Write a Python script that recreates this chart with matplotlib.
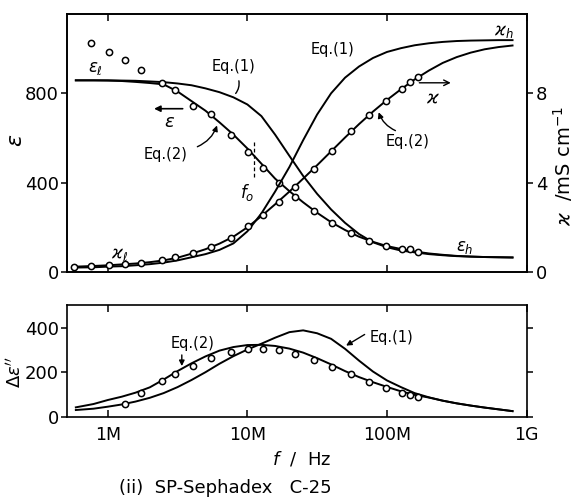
import numpy as np
import matplotlib
matplotlib.use("Agg")
import matplotlib.pyplot as plt

# ---------------- data (frequencies in MHz) ----------------
meas_f_MHz = [0.57, 0.76, 1.02, 1.32, 1.72, 2.43, 3.05, 4.07, 5.53, 7.57, 10.1,
              12.9, 16.9, 21.9, 29.9, 40.3, 55.1, 74.1, 98.9, 128.8, 146.9, 166.0]
eps_meas = [np.nan, 1026, 986, 950, 903, 848, 815, 745, 707, 614, 535,
            465, 397, 335, 274, 220, 176, 139, 115, 104, 101, 90]
kappa_meas = [0.22, 0.27, 0.33, 0.35, 0.39, 0.54, 0.65, 0.85, 1.11, 1.52, 2.05,
              2.55, 3.12, 3.80, 4.62, 5.42, 6.29, 7.04, 7.67, 8.21, 8.51, 8.72]
loss_f_MHz = meas_f_MHz[3:]
loss_meas = [57, 105, 160, 194, 228, 265, 290, 304, 304, 301, 282, 254, 225,
             194, 157, 130, 106, 96, 87]

curve_f_MHz = [0.59, 0.79, 1.0, 1.26, 1.58, 2.0, 2.51, 3.16, 3.98, 5.01, 6.31, 7.94,
               10.0, 12.6, 15.8, 20.0, 25.1, 31.6, 39.8, 50.1, 63.1, 79.4, 100, 126,
               158, 200, 251, 316, 398, 501, 631, 794]
eps_eq1 = [858, 858, 858, 857, 856, 853, 850, 844, 836, 822, 805, 782,
           750, 698, 615, 520, 430, 350, 280, 220, 170, 133, 111, 96,
           88, 80, 75, 71, 69, 67, 66, 65]
eps_eq2 = [858, 858, 857, 855, 851, 846, 840, 808, 765, 722, 670, 615,
           553, 485, 418, 362, 312, 265, 223, 188, 158, 135, 116, 103,
           92, 83, 77, 72, 69, 67, 66, 65]
kappa_eq1 = [0.20, 0.21, 0.24, 0.26, 0.30, 0.35, 0.42, 0.52, 0.66, 0.80, 0.99, 1.28,
             1.82, 2.62, 3.60, 4.70, 5.90, 7.05, 8.00, 8.70, 9.20, 9.58, 9.85, 10.02,
             10.15, 10.24, 10.30, 10.34, 10.36, 10.37, 10.38, 10.38]
kappa_eq2 = [0.24, 0.27, 0.30, 0.34, 0.38, 0.44, 0.52, 0.64, 0.82, 1.02, 1.27, 1.58,
             2.00, 2.50, 3.03, 3.60, 4.18, 4.78, 5.40, 6.02, 6.62, 7.18, 7.70, 8.18,
             8.62, 9.02, 9.36, 9.62, 9.82, 9.97, 10.07, 10.14]
loss_eq1 = [30, 36, 45, 55, 68, 85, 106, 133, 165, 200, 238, 272,
            302, 328, 355, 380, 388, 375, 350, 305, 252, 203, 163, 133,
            106, 87, 72, 60, 50, 41, 33, 25]
loss_eq2 = [42, 57, 75, 90, 108, 132, 167, 205, 240, 271, 297, 313,
            322, 323, 318, 306, 288, 263, 235, 205, 178, 155, 134, 114,
            98, 86, 72, 60, 50, 41, 33, 25]

xticks_Hz = [1e6, 1e7, 1e8, 1e9]
xtick_labels = ["1M", "10M", "100M", "1G"]

M = 1e6
mf = np.array(meas_f_MHz) * M
cf = np.array(curve_f_MHz) * M
lf = np.array(loss_f_MHz) * M

plt.rcParams['font.family'] = ['DejaVu Sans']
plt.rcParams['mathtext.fontset'] = 'dejavusans'

W, H = 577, 498
fig = plt.figure(figsize=(W / 100, H / 100), dpi=100)

def rect(x0, y0, x1, y1):
    return [x0 / W, 1 - y1 / H, (x1 - x0) / W, (y1 - y0) / H]

ax = fig.add_axes(rect(67, 14, 526.5, 272))
axr = ax.twinx()
axb = fig.add_axes(rect(67, 305, 526.5, 416.7))

lw = 1.4
mk = dict(ls='none', marker='o', ms=4.5, mfc='white', mec='black', mew=1.1, zorder=5)
XL = (5.1e5, 1e9)
lfs = 13

# ---------- top panel ----------
ax.plot(cf, eps_eq1, 'k-', lw=lw)
ax.plot(cf, eps_eq2, 'k-', lw=lw)
ax.plot(mf, eps_meas, **mk)
axr.plot(cf, kappa_eq1, 'k-', lw=lw)
axr.plot(cf, kappa_eq2, 'k-', lw=lw)
axr.plot(mf, kappa_meas, **mk)

ax.set_xscale('log')
ax.set_xlim(*XL)
ax.set_ylim(0, 1155)
axr.set_ylim(0, 11.55)
ax.set_yticks([0, 400, 800])
axr.set_yticks([0, 4, 8])
ax.set_xticks(xticks_Hz)
ax.set_xticklabels([])
ax.xaxis.set_minor_locator(matplotlib.ticker.NullLocator())
ax.tick_params(axis='x', which='major', direction='in', length=5, width=1.1,
               top=True, bottom=True, labelbottom=False)
ax.tick_params(axis='y', direction='out', length=4, width=1.1, labelsize=lfs, pad=2)
axr.tick_params(axis='y', direction='out', length=4, width=1.1, labelsize=lfs, pad=3)
for a in (ax, axr):
    for s in a.spines.values():
        s.set_linewidth(1.2)

tfs = 10.5
ax.text(0.81e6, 915, r'$\varepsilon_\ell$', fontsize=12, ha='center', va='center')
ax.text(7.9e6, 920, 'Eq.(1)', fontsize=tfs, ha='center', va='center')
ax.annotate('', xy=(8.0e6, 790), xytext=(8.6e6, 868),
            arrowprops=dict(arrowstyle='-', lw=1.0, connectionstyle='arc3,rad=-0.3'))
ax.annotate('', xy=(2.05e6, 731), xytext=(3.6e6, 731),
            arrowprops=dict(arrowstyle='-|>', lw=1.2, color='k', mutation_scale=9))
ax.text(2.78e6, 673, r'$\varepsilon$', fontsize=13, ha='center', va='center')
ax.text(2.6e6, 524, 'Eq.(2)', fontsize=tfs, ha='center', va='center')
ax.annotate('', xy=(6.15e6, 668), xytext=(4.2e6, 556),
            arrowprops=dict(arrowstyle='-|>', lw=1.0, color='k', mutation_scale=8,
                            connectionstyle='arc3,rad=0.25'))
ax.plot([11.1e6, 11.1e6], [426, 592], 'k--', lw=0.9, dashes=(3, 2))
ax.text(9.9e6, 358, r'$f_o$', fontsize=12, ha='center', va='center')
ax.text(1.22e6, 80, r'$\varkappa_\ell$', fontsize=12, ha='center', va='center')
ax.text(41e6, 996, 'Eq.(1)', fontsize=tfs, ha='center', va='center')
ax.text(690e6, 1080, r'$\varkappa_h$', fontsize=12, ha='center', va='center')
ax.annotate('', xy=(300e6, 847), xytext=(163e6, 847),
            arrowprops=dict(arrowstyle='->', lw=1.0, color='k', mutation_scale=10))
ax.text(212e6, 780, r'$\varkappa$', fontsize=13, ha='center', va='center')
ax.text(140e6, 583, 'Eq.(2)', fontsize=tfs, ha='center', va='center')
ax.annotate('', xy=(86e6, 727), xytext=(120e6, 628),
            arrowprops=dict(arrowstyle='-|>', lw=1.0, color='k', mutation_scale=8,
                            connectionstyle='arc3,rad=-0.25'))
ax.text(362e6, 111, r'$\varepsilon_h$', fontsize=12, ha='center', va='center')

# ---------- bottom panel ----------
axb.plot(cf, loss_eq1, 'k-', lw=lw)
axb.plot(cf, loss_eq2, 'k-', lw=lw)
axb.plot(lf, loss_meas, **mk)
axb.set_xscale('log')
axb.set_xlim(*XL)
axb.set_ylim(0, 502)
axb.set_yticks([0, 200, 400])
axb.set_xticks(xticks_Hz)
axb.set_xticklabels(xtick_labels)
axb.xaxis.set_minor_locator(matplotlib.ticker.NullLocator())
axb.tick_params(axis='x', direction='in', length=5, width=1.1, top=True,
                labelsize=12.5, pad=7)
axb.tick_params(axis='y', direction='out', length=4, width=1.1, labelsize=lfs, pad=2)
axb.tick_params(axis='y', which='major', right=True)
for s in axb.spines.values():
    s.set_linewidth(1.2)
axb.text(4.06e6, 331, 'Eq.(2)', fontsize=tfs, ha='center', va='center')
axb.annotate('', xy=(3.39e6, 215), xytext=(3.39e6, 290),
             arrowprops=dict(arrowstyle='-|>', lw=1.0, color='k', mutation_scale=8))
axb.text(108e6, 354, 'Eq.(1)', fontsize=tfs, ha='center', va='center')
axb.annotate('', xy=(49e6, 313), xytext=(72e6, 376),
             arrowprops=dict(arrowstyle='-|>', lw=1.0, color='k', mutation_scale=8))

# ---------- labels ----------
fig.text(16 / W, 1 - 140 / H, r'$\varepsilon$', fontsize=16, rotation=90,
         ha='center', va='center')
fig.text(563 / W, 1 - 166 / H, r'$\varkappa$  /mS cm$^{-1}$', fontsize=14,
         rotation=90, ha='center', va='center')
fig.text(15 / W, 1 - 372 / H, r"$\Delta\varepsilon''$", fontsize=13, rotation=90,
         ha='center', va='center')
fig.text(302 / W, 1 - 459 / H, r'$f$  /  Hz', fontsize=13, ha='center', va='center')
fig.text(225 / W, 1 - 488 / H, '(ii)  SP-Sephadex   C-25', fontsize=13,
         ha='center', va='center')

fig.savefig('out.png', dpi=100)
